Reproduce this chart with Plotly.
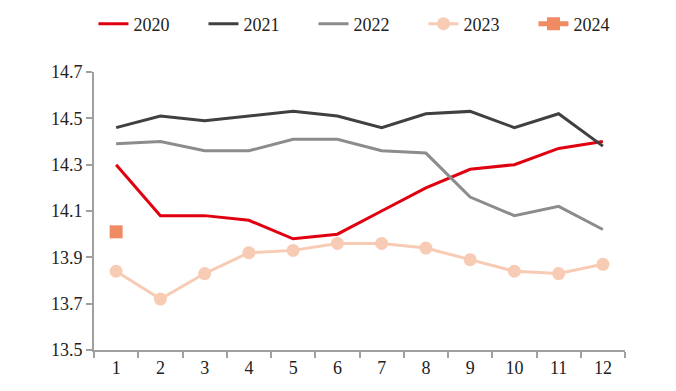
import plotly.graph_objects as go

months = [str(i) for i in range(1, 13)]
y2020 = [14.30, 14.08, 14.08, 14.06, 13.98, 14.00, 14.10, 14.20, 14.28, 14.30, 14.37, 14.40]
y2021 = [14.46, 14.51, 14.49, 14.51, 14.53, 14.51, 14.46, 14.52, 14.53, 14.46, 14.52, 14.38]
y2022 = [14.39, 14.40, 14.36, 14.36, 14.41, 14.41, 14.36, 14.35, 14.16, 14.08, 14.12, 14.02]
y2023 = [13.84, 13.72, 13.83, 13.92, 13.93, 13.96, 13.96, 13.94, 13.89, 13.84, 13.83, 13.87]
y2024 = [14.01]
months2024 = months[:1]
ytick_vals = [13.5, 13.7, 13.9, 14.1, 14.3, 14.5, 14.7]

fig = go.Figure()
fig.add_trace(go.Scatter(x=months, y=y2020, name="2020", mode="lines",
                         line=dict(color="#E0000F", width=3)))
fig.add_trace(go.Scatter(x=months, y=y2021, name="2021", mode="lines",
                         line=dict(color="#404040", width=3)))
fig.add_trace(go.Scatter(x=months, y=y2022, name="2022", mode="lines",
                         line=dict(color="#8C8C8C", width=3)))
fig.add_trace(go.Scatter(x=months, y=y2023, name="2023", mode="lines+markers",
                         line=dict(color="#F8CBB4", width=3),
                         marker=dict(symbol="circle", size=13, color="#F8CBB4")))
fig.add_trace(go.Scatter(x=months2024, y=y2024, name="2024", mode="lines+markers",
                         line=dict(color="#F08A62", width=5),
                         marker=dict(symbol="square", size=13, color="#F08A62")))

W, H = 676, 391
ML, MR, MT, MB = 86, 59, 64, 49
PW, PH = W - ML - MR, H - MT - MB
fig.update_layout(
    width=W, height=H,
    margin=dict(l=ML, r=MR, t=MT, b=MB, autoexpand=False),
    paper_bgcolor="white", plot_bgcolor="white",
    font=dict(family="Liberation Serif", size=18, color="#222"),
    showlegend=True,
    legend=dict(orientation="h", x=-0.001, xanchor="left",
                y=1 + 48 / PH, yanchor="middle",
                font=dict(size=18), entrywidth=65, tracegroupgap=0),
)
fig.update_xaxes(type="category", categoryorder="array", categoryarray=months,
                 showgrid=False, showline=True, linecolor="#A0A0A0", linewidth=2,
                 ticks="outside", tickson="boundaries", ticklen=6, tickcolor="#A0A0A0",
                 tickwidth=2, range=[-0.5, 11.5], tickfont=dict(size=18), automargin=False)
fig.update_yaxes(range=[13.5, 14.7], tickvals=ytick_vals,
                 ticktext=[f"{v:.1f}" for v in ytick_vals],
                 showgrid=False, showline=True, linecolor="#A0A0A0", linewidth=2,
                 ticks="outside", ticklen=6, tickcolor="#A0A0A0", tickwidth=2,
                 zeroline=False, tickfont=dict(size=18), automargin=False)

fig.write_html("out.html")
